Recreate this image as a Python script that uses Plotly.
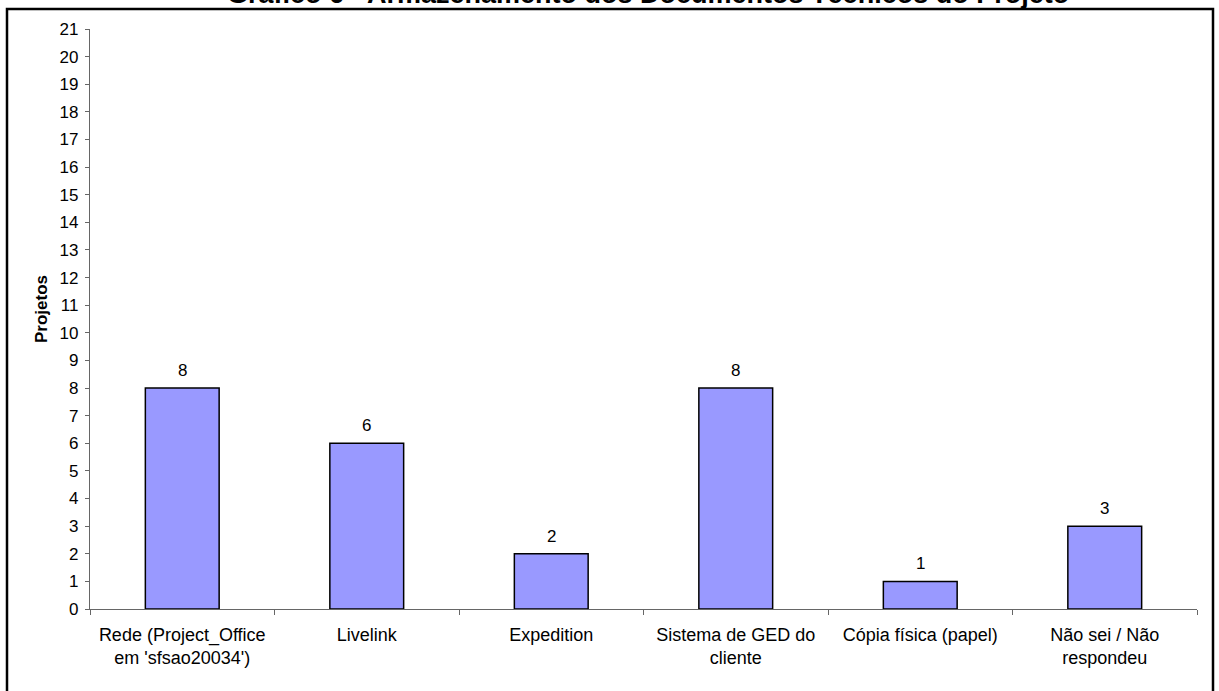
import plotly.graph_objects as go

# Categories and counts
categorias = [
    "Rede (Project_Office<br>em 'sfsao20034')",
    "Livelink",
    "Expedition",
    "Sistema de GED do<br>cliente",
    "Cópia física (papel)",
    "Não sei / Não<br>respondeu",
]
projetos = [8, 6, 2, 8, 1, 3]
y_ticks = list(range(0, 22))

titulo = "Gráfico 6 - Armazenamento dos Documentos Técnicos do Projeto"

W, H = 1219, 691
L, R, T, B = 90, 22, 29, 82
plot_w = W - L - R
plot_h = H - T - B


def px_x(px):
    return (px - L) / plot_w


def px_y(py):
    return (H - B - py) / plot_h


FONT = "Liberation Sans, Arial, sans-serif"

fig = go.Figure()
fig.add_trace(
    go.Bar(
        x=categorias,
        y=projetos,
        width=0.4,
        marker=dict(color="#9999FF", line=dict(color="black", width=1.5)),
        hoverinfo="skip",
    )
)

# value labels above each bar
for c, v in zip(categorias, projetos):
    fig.add_annotation(
        x=c, y=v, text=str(v), showarrow=False, yanchor="bottom",
        yshift=6, font=dict(family=FONT, size=17, color="black"),
    )

# y-axis title
fig.add_annotation(
    xref="paper", yref="paper", x=px_x(41), y=px_y(309),
    text="<b>Projetos</b>", textangle=-90, showarrow=False,
    xanchor="center", yanchor="middle",
    font=dict(family=FONT, size=17, color="black"),
)

# chart title (sits above the chart frame)
fig.add_annotation(
    xref="paper", yref="paper", x=px_x(648), y=px_y(11),
    text="<b>" + titulo + "</b>", showarrow=False,
    xanchor="center", yanchor="bottom",
    font=dict(family=FONT, size=27, color="black"),
)

# chart frame
fig.add_shape(
    type="rect", xref="paper", yref="paper",
    x0=px_x(7), x1=px_x(1213), y0=px_y(700), y1=px_y(9),
    line=dict(color="black", width=2.5), fillcolor="rgba(0,0,0,0)",
)

fig.update_layout(
    width=W, height=H,
    margin=dict(l=L, r=R, t=T, b=B, pad=0),
    paper_bgcolor="white", plot_bgcolor="white",
    showlegend=False,
    font=dict(family=FONT, color="black"),
    bargap=0.6,
)
fig.update_xaxes(
    type="category", range=[-0.5, 5.5],
    showline=True, linecolor="#666666", linewidth=1.3,
    ticks="outside", tickson="boundaries", ticklen=5, tickcolor="#666666",
    tickfont=dict(family=FONT, size=18, color="black"),
    ticklabelstandoff=9,
    showgrid=False, zeroline=False,
)
fig.update_yaxes(
    range=[0, 21], tickvals=y_ticks, ticktext=[str(t) for t in y_ticks],
    showline=True, linecolor="#666666", linewidth=1.3,
    ticks="outside", ticklen=4, tickcolor="#666666",
    tickfont=dict(family=FONT, size=17, color="black"),
    ticklabelstandoff=3,
    showgrid=False, zeroline=False,
)

fig.write_html("out.html")
